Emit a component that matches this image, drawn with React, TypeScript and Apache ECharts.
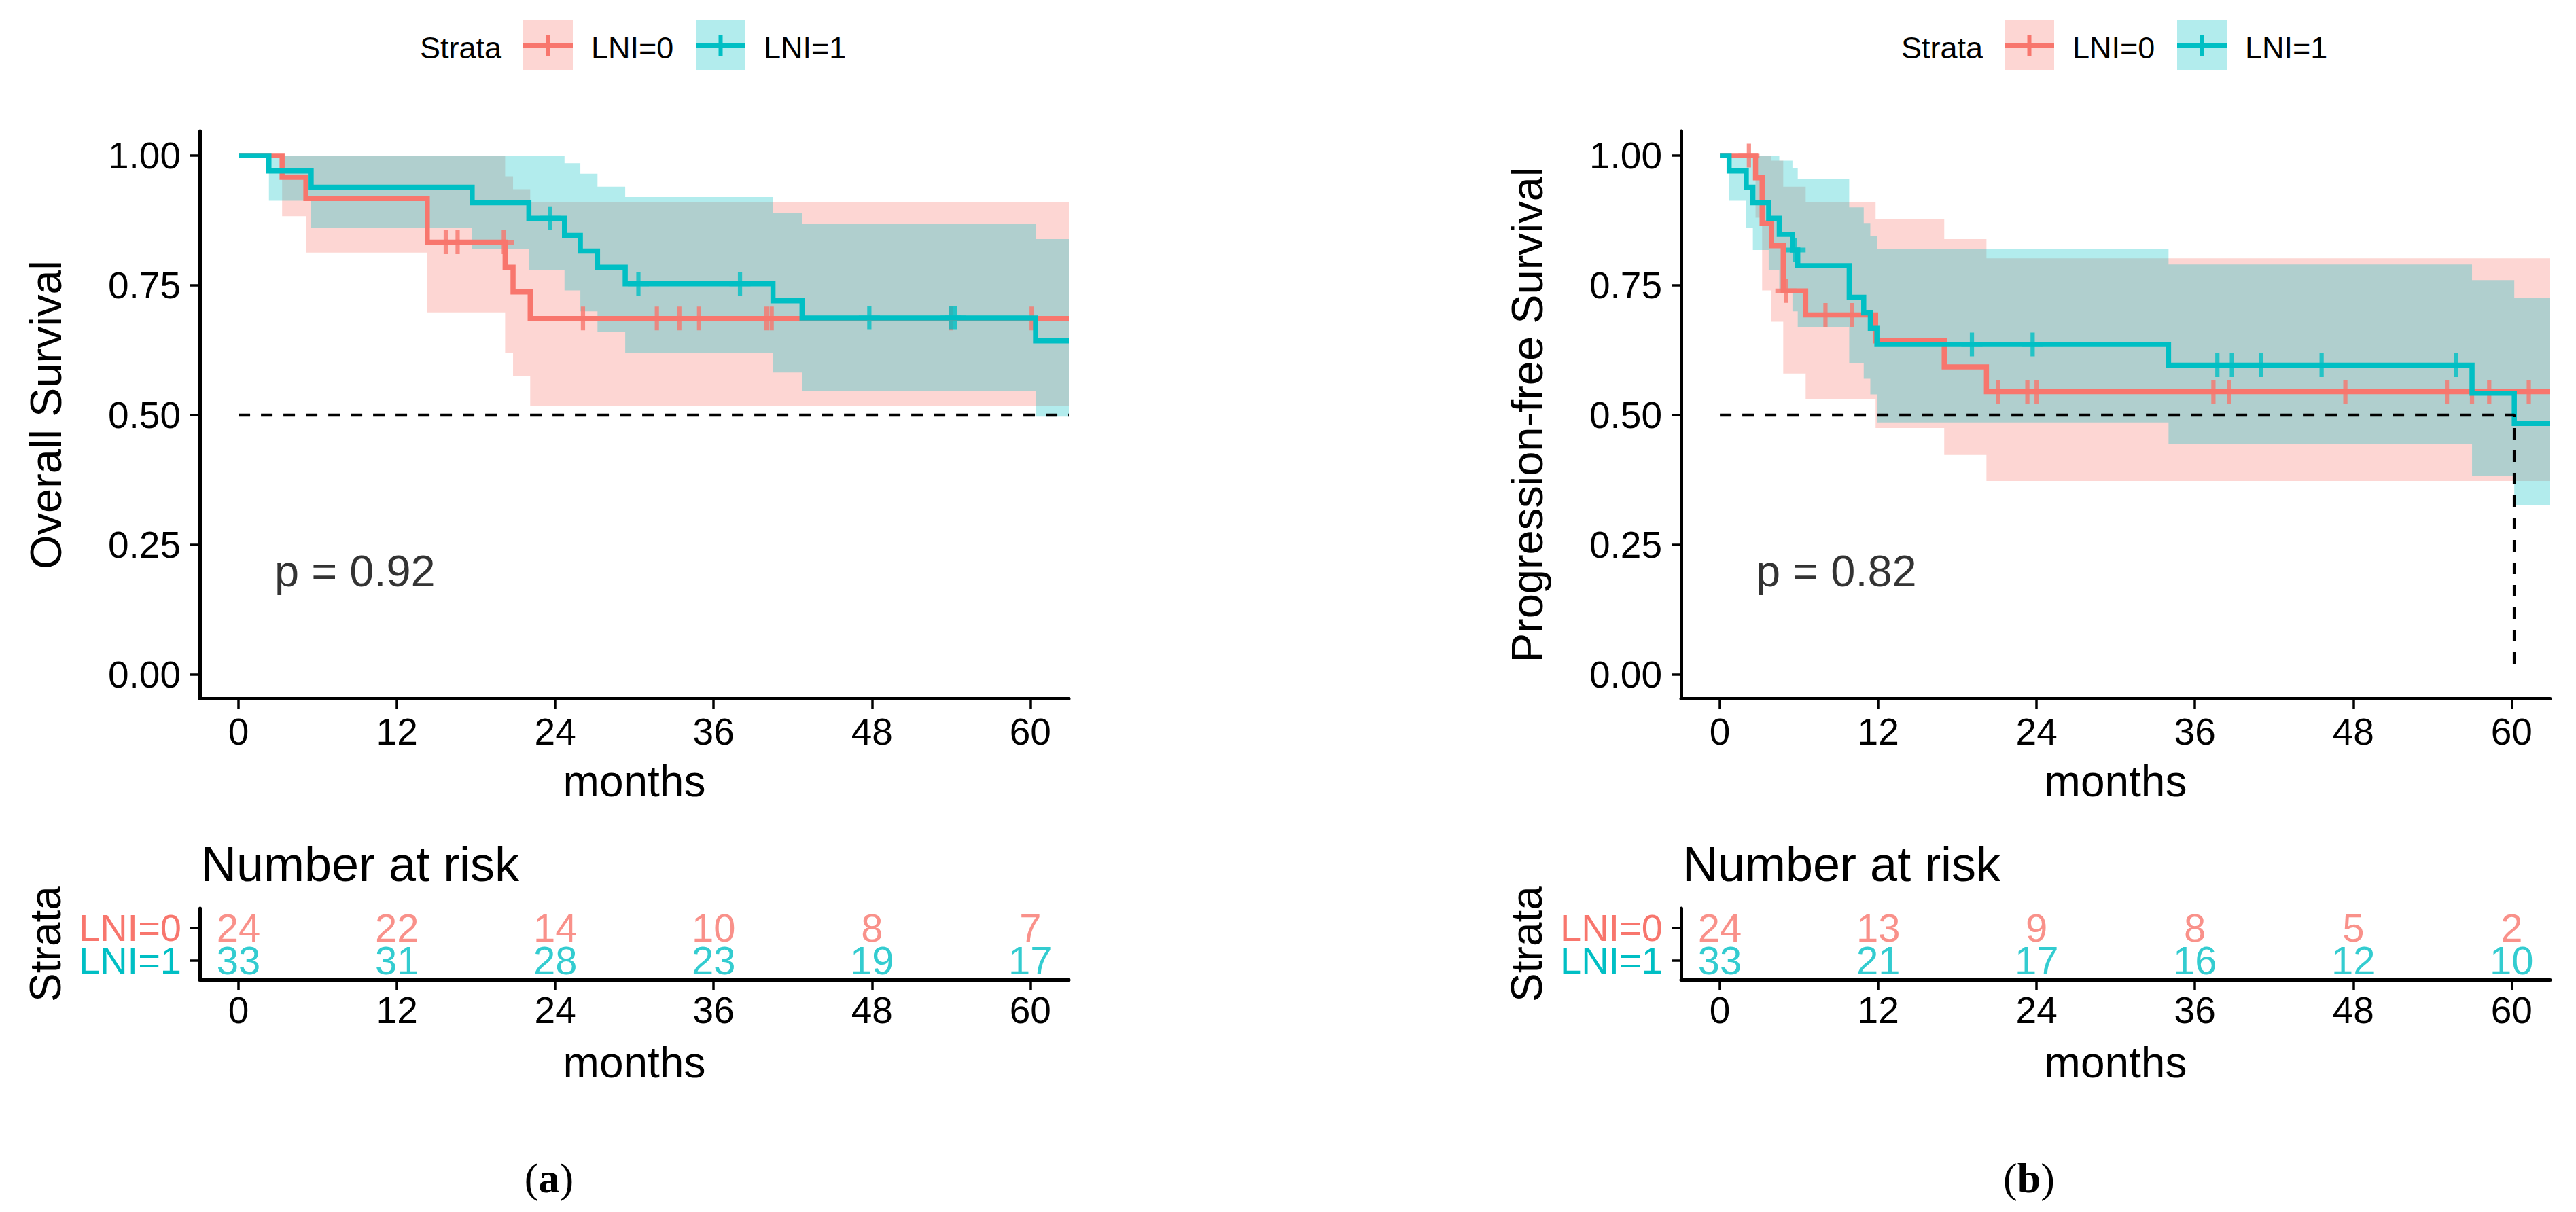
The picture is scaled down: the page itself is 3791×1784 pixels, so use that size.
import React, { useEffect, useRef } from 'react';
import * as echarts from 'echarts';

const W = 3791;
const H = 1784;
const FONT = "'Liberation Sans', Arial, Helvetica, sans-serif";
const SERIF = "'Liberation Serif', 'DejaVu Serif', serif";
const RED = '#F8766D';
const TEAL = '#00BFC4';
const RED_FILL = 'rgba(248,118,109,0.3)';
const TEAL_FILL = 'rgba(0,191,196,0.3)';

// ---------- axis definitions ----------
const monthTicks = [0, 12, 24, 36, 48, 60];
const survTicks = [0, 0.25, 0.5, 0.75, 1];
const strata = ['LNI=0', 'LNI=1'];
const X_MIN = -2.94;
const X_END = 62.92;
const Y_MIN = -0.0458;
const Y_MAX = 1.047;
const RISK_MIN = 0.4;
const RISK_MAX = 2.6;

// ---------- (a) Overall survival ----------
const osTime0 = [0, 3.3, 5.1, 14.3, 20.2, 20.8, 22.1];
const osSurv0 = [1, 0.958, 0.917, 0.833, 0.785, 0.737, 0.686];
const osLower0 = [1, 0.883, 0.813, 0.698, 0.62, 0.576, 0.518];
const osUpper0 = [1, 1, 1, 1, 0.96, 0.935, 0.91];
const osCensor0 = [15.7, 16.6, 20.1, 26.1, 31.7, 33.4, 34.9, 40.0, 40.4, 54.0, 60.1];

const osTime1 = [0, 2.3, 5.5, 17.7, 22.0, 24.7, 25.9, 27.2, 29.3, 40.5, 42.7, 60.4];
const osSurv1 = [1, 0.970, 0.939, 0.909, 0.879, 0.846, 0.816, 0.785, 0.753, 0.720, 0.687, 0.643];
const osLower1 = [1, 0.913, 0.861, 0.82, 0.78, 0.74, 0.70, 0.66, 0.619, 0.582, 0.546, 0.497];
const osUpper1 = [1, 1, 1, 1, 1, 0.985, 0.965, 0.94, 0.92, 0.89, 0.868, 0.839];
const osCensor1 = [23.6, 30.3, 38.0, 47.8, 54.0, 54.3];

const osRisk0 = [24, 22, 14, 10, 8, 7];
const osRisk1 = [33, 31, 28, 23, 19, 17];
const osPValue = 'p = 0.92';

// ---------- (b) Progression-free survival ----------
const pfsTime0 = [0, 2.7, 3.2, 3.9, 4.8, 6.5, 11.8, 17.0, 20.2];
const pfsSurv0 = [1, 0.957, 0.870, 0.826, 0.739, 0.693, 0.643, 0.593, 0.545];
const pfsLower0 = [1, 0.88, 0.74, 0.68, 0.58, 0.53, 0.475, 0.423, 0.373];
const pfsUpper0 = [1, 1, 1, 0.99, 0.94, 0.91, 0.877, 0.839, 0.802];
const pfsCensor0 = [2.2, 5.0, 8.0, 10.0, 21.1, 23.3, 24.0, 37.4, 38.6, 47.4, 55.1, 57.0, 58.3, 61.3];

const pfsTime1 = [0, 0.7, 2.0, 2.5, 3.7, 4.5, 5.5, 5.9, 9.8, 10.9, 11.4, 11.9, 34.0, 57.0, 60.2];
const pfsSurv1 = [1, 0.970, 0.939, 0.909, 0.879, 0.848, 0.818, 0.788, 0.727, 0.697, 0.667, 0.636, 0.596, 0.542, 0.484];
const pfsLower1 = [1, 0.913, 0.861, 0.818, 0.78, 0.74, 0.70, 0.67, 0.60, 0.57, 0.54, 0.486, 0.445, 0.383, 0.327];
const pfsUpper1 = [1, 1, 1, 1, 1, 0.99, 0.975, 0.955, 0.90, 0.87, 0.845, 0.82, 0.79, 0.76, 0.726];
const pfsCensor1 = [5.7, 19.1, 23.7, 37.7, 38.8, 41.0, 45.6, 55.8];

const pfsRisk0 = [24, 13, 9, 8, 5, 2];
const pfsRisk1 = [33, 21, 17, 16, 12, 10];
const pfsPValue = 'p = 0.82';
const pfsMedian = 60.2;

const pValueAt = [2.7, 0.2];

// ---------- layout ----------
const PANEL_DX = 2180;
const MAIN_TOP = 193;
const MAIN_H = 835;
const RISK_TOP = 1337;
const RISK_H = 105;
const AX_LEFT = 294;
const AX_W = 1279;
const CURVE_W = 7.5;

const PLUS = 'path://M-1,-5H1V-1H5V1H1V5H-1V1H-5V-1H-1Z';

function survAt(time: number[], surv: number[], t: number) {
  let v = surv[0];
  for (let i = 0; i < time.length; i++) if (time[i] <= t) v = surv[i];
  return v;
}

// confidence band: polygon through all step points, drawn with the grid's scales
function bandSeries(g: number, time: number[], lo: number[], hi: number[], fill: string) {
  const tt = [...time, X_END];
  const loE = [...lo, lo[lo.length - 1]];
  const hiE = [...hi, hi[hi.length - 1]];
  return {
    type: 'custom', xAxisIndex: g, yAxisIndex: g, silent: true, clip: true,
    data: tt.map((t, i) => [t, loE[i], hiE[i]]),
    encode: { x: 0, y: [1, 2] },
    renderItem: (params: any, api: any) => {
      if (params.dataIndexInside !== 0) return null;
      const n = params.dataInsideLength;
      const upper: number[][] = [];
      const lower: number[][] = [];
      for (let i = 0; i < n; i++) {
        const t = api.value(0, i);
        const l = api.value(1, i);
        const h = api.value(2, i);
        const tNext = i < n - 1 ? api.value(0, i + 1) : t;
        upper.push(api.coord([t, h]));
        upper.push(api.coord([tNext, h]));
        lower.push(api.coord([t, l]));
        lower.push(api.coord([tNext, l]));
      }
      const points = [...upper, ...lower.reverse()];
      return { type: 'polygon', shape: { points }, style: { fill, stroke: 'none' } };
    },
  };
}

function lineSeries(g: number, time: number[], surv: number[], color: string) {
  const tt = [...time, X_END];
  const sE = [...surv, surv[surv.length - 1]];
  return {
    type: 'line', xAxisIndex: g, yAxisIndex: g, step: 'end', silent: true,
    data: tt.map((t, i) => [t, sE[i]]), symbol: 'none',
    lineStyle: { color, width: CURVE_W, cap: 'butt', join: 'miter' },
  };
}

function censorSeries(g: number, time: number[], surv: number[], cens: number[], color: string) {
  return {
    type: 'scatter', xAxisIndex: g, yAxisIndex: g, silent: true,
    data: cens.map((t) => [t, survAt(time, surv, t)]),
    symbol: PLUS, symbolSize: [31, 35], itemStyle: { color },
  };
}

function riskSeries(g: number, risk0: number[], risk1: number[]) {
  const rows = [risk0, risk1];
  return rows.map((r, si) => ({
    type: 'scatter', xAxisIndex: g, yAxisIndex: g, silent: true,
    data: monthTicks.map((t, i) => [t, strata.length - si, r[i]]),
    symbolSize: 1, itemStyle: { color: 'transparent' },
    label: {
      show: true, position: 'inside', formatter: (p: any) => String(p.value[2]),
      fontSize: 58, lineHeight: 46, fontFamily: FONT, color: si === 0 ? RED : TEAL,
    },
  }));
}

function xAxisDef(g: number, margin: number) {
  return {
    type: 'value', gridIndex: g, min: X_MIN, max: X_END,
    axisLine: { show: true, onZero: false, lineStyle: { color: '#000', width: 5 } },
    axisTick: { show: true, length: 15, customValues: monthTicks, lineStyle: { color: '#000', width: 3.5 } },
    axisLabel: { customValues: monthTicks, fontSize: 55, fontFamily: FONT, color: '#000', margin, verticalAlign: 'middle' },
    splitLine: { show: false },
    name: 'months', nameLocation: 'middle', nameGap: 122,
    nameTextStyle: { fontSize: 64, fontFamily: FONT, color: '#000', verticalAlign: 'middle' },
  };
}

function mainYAxis(g: number, yName: string) {
  return {
    type: 'value', gridIndex: g, min: Y_MIN, max: Y_MAX,
    axisLine: { show: true, onZero: false, lineStyle: { color: '#000', width: 5 } },
    axisTick: { show: true, length: 14, customValues: survTicks, lineStyle: { color: '#000', width: 3.5 } },
    axisLabel: { customValues: survTicks, fontSize: 55, fontFamily: FONT, color: '#000', margin: 28, formatter: (v: number) => v.toFixed(2) },
    splitLine: { show: false },
    name: yName, nameLocation: 'middle', nameGap: 227,
    nameTextStyle: { fontSize: 65, fontFamily: FONT, color: '#000', verticalAlign: 'middle' },
  };
}

function riskYAxis(g: number) {
  return {
    type: 'value', gridIndex: g, min: RISK_MIN, max: RISK_MAX,
    axisLine: { show: true, onZero: false, lineStyle: { color: '#000', width: 5 } },
    axisTick: { show: true, length: 14, customValues: [1, 2], lineStyle: { color: '#000', width: 3.5 } },
    axisLabel: { show: false },
    splitLine: { show: false },
    name: 'Strata', nameLocation: 'middle', nameGap: 227,
    nameTextStyle: { fontSize: 64, fontFamily: FONT, color: '#000', verticalAlign: 'middle' },
  };
}

function txt(text: string, x: number, y: number, size: number, fill = '#000', align = 'left') {
  return {
    type: 'text', silent: true,
    style: { text, x, y, fill, font: `${size}px ${FONT}`, align, verticalAlign: 'middle', textAlign: align, textVerticalAlign: 'middle' },
  };
}

function panelGraphics(dx: number) {
  const items: any[] = [];
  items.push(txt('Strata', 618 + dx, 70, 45));
  const keys = [
    { x: 770, fill: RED_FILL, color: RED, label: strata[0], lx: 870 },
    { x: 1024, fill: TEAL_FILL, color: TEAL, label: strata[1], lx: 1124 },
  ];
  keys.forEach((k) => {
    items.push({ type: 'rect', silent: true, shape: { x: k.x + dx, y: 30, width: 73, height: 73 }, style: { fill: k.fill } });
    items.push({ type: 'line', silent: true, shape: { x1: k.x + dx, y1: 67, x2: k.x + dx + 73, y2: 67 }, style: { stroke: k.color, lineWidth: CURVE_W } });
    items.push({ type: 'line', silent: true, shape: { x1: k.x + dx + 36.5, y1: 51, x2: k.x + dx + 36.5, y2: 83 }, style: { stroke: k.color, lineWidth: 6 } });
    items.push(txt(k.label, k.lx + dx, 70, 45));
  });
  items.push(txt('Number at risk', 296 + dx, 1272, 72));
  // stratum labels of the risk table, right-aligned next to its y axis
  strata.forEach((s, si) => {
    const row = strata.length - si;
    const y = RISK_TOP + (RISK_H * (RISK_MAX - row)) / (RISK_MAX - RISK_MIN);
    items.push(txt(s, AX_LEFT - 27 + dx, y, 56, si === 0 ? RED : TEAL, 'right'));
  });
  return items;
}

function captionGraphic(text: string, x: number) {
  return {
    type: 'text', silent: true,
    style: {
      text: `({b|${text}})`, x, y: 1734, fill: '#000', font: `62px ${SERIF}`,
      align: 'center', verticalAlign: 'middle', textAlign: 'center', textVerticalAlign: 'middle',
      rich: { b: { fontWeight: 'bold', fontSize: 62, fontFamily: SERIF, fill: '#000', color: '#000' } },
    },
  };
}

function pSeries(g: number, text: string) {
  return {
    type: 'scatter', xAxisIndex: g, yAxisIndex: g, silent: true,
    data: [pValueAt], symbolSize: 1, itemStyle: { color: 'transparent' },
    label: { show: true, position: 'right', distance: 0, formatter: text, fontSize: 65, fontFamily: FONT, color: '#000' },
  };
}

function dashed(g: number, data: number[][]) {
  return {
    type: 'line', xAxisIndex: g, yAxisIndex: g, silent: true, symbol: 'none', data,
    lineStyle: { color: '#000', width: 4.5, type: [17, 16] },
  };
}

function panelSeries(g: number, d: any) {
  return [
    bandSeries(g, d.t0, d.lo0, d.hi0, RED_FILL),
    lineSeries(g, d.t0, d.s0, RED),
    bandSeries(g, d.t1, d.lo1, d.hi1, TEAL_FILL),
    lineSeries(g, d.t1, d.s1, TEAL),
    dashed(g, d.median),
    censorSeries(g, d.t0, d.s0, d.c0, RED),
    censorSeries(g, d.t1, d.s1, d.c1, TEAL),
    pSeries(g, d.p),
    ...riskSeries(g + 1, d.r0, d.r1),
  ];
}

function buildOption() {
  const grid = [
    { left: AX_LEFT, top: MAIN_TOP, width: AX_W, height: MAIN_H },
    { left: AX_LEFT, top: RISK_TOP, width: AX_W, height: RISK_H },
    { left: AX_LEFT + PANEL_DX, top: MAIN_TOP, width: AX_W, height: MAIN_H },
    { left: AX_LEFT + PANEL_DX, top: RISK_TOP, width: AX_W, height: RISK_H },
  ].map((gr) => ({ ...gr, containLabel: false, outerBoundsMode: 'none' }));

  const series: any[] = [
    ...panelSeries(0, {
      t0: osTime0, s0: osSurv0, lo0: osLower0, hi0: osUpper0, c0: osCensor0,
      t1: osTime1, s1: osSurv1, lo1: osLower1, hi1: osUpper1, c1: osCensor1,
      median: [[0, 0.5], [X_END, 0.5]], p: osPValue, r0: osRisk0, r1: osRisk1,
    }),
    ...panelSeries(2, {
      t0: pfsTime0, s0: pfsSurv0, lo0: pfsLower0, hi0: pfsUpper0, c0: pfsCensor0,
      t1: pfsTime1, s1: pfsSurv1, lo1: pfsLower1, hi1: pfsUpper1, c1: pfsCensor1,
      median: [[0, 0.5], [pfsMedian, 0.5], [pfsMedian, 0]], p: pfsPValue, r0: pfsRisk0, r1: pfsRisk1,
    }),
  ];

  return {
    animation: false,
    backgroundColor: '#ffffff',
    textStyle: { fontFamily: FONT },
    grid,
    xAxis: [xAxisDef(0, 49), xAxisDef(1, 45), xAxisDef(2, 49), xAxisDef(3, 45)],
    yAxis: [mainYAxis(0, 'Overall Survival'), riskYAxis(1), mainYAxis(2, 'Progression-free Survival'), riskYAxis(3)],
    series,
    graphic: [
      ...panelGraphics(0),
      ...panelGraphics(PANEL_DX),
      captionGraphic('a', 808),
      captionGraphic('b', 2986),
    ],
  };
}

export default function App() {
  const ref = useRef<HTMLDivElement>(null);
  useEffect(() => {
    if (!ref.current) return;
    const chart = echarts.init(ref.current, null, { renderer: 'svg', width: W, height: H });
    chart.setOption(buildOption() as any);
    return () => chart.dispose();
  }, []);
  return (
    <div
      ref={ref}
      style={{ position: 'fixed', left: 0, top: 0, width: W, height: H, background: '#fff' }}
    />
  );
}
